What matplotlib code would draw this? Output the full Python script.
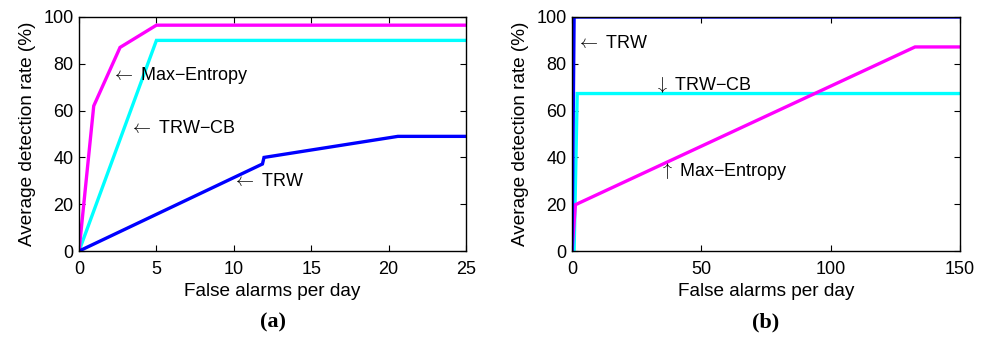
import matplotlib
matplotlib.use("Agg")
import matplotlib.pyplot as plt

plt.rcParams['font.family'] = ['Liberation Sans', 'DejaVu Sans']
plt.rcParams['mathtext.fontset'] = 'cm'

# Panel (a)
a_me_x = [0, 0.95, 2.65, 5.0, 25]
a_me_y = [0, 62, 87, 96.5, 96.5]
a_cb_x = [0, 5.0, 25]
a_cb_y = [0, 90, 90]
a_trw_x = [0, 11.85, 11.95, 20.6, 25]
a_trw_y = [0, 37.2, 40, 49, 49]

# Panel (b)
b_trw_x = [0, 0.8, 150]
b_trw_y = [0, 100, 100]
b_cb_x = [0, 0.8, 2.0, 150]
b_cb_y = [0, 0, 67.3, 67.3]
b_me_x = [0, 1.3, 132.6, 150]
b_me_y = [0, 19.8, 87.2, 87.2]

xlabel = "False alarms per day"
ylabel = "Average detection rate (%)"

fig = plt.figure(figsize=(9.89, 3.37), dpi=100)
axa = fig.add_axes([0.0799, 0.255, 0.3913, 0.6946])
axb = fig.add_axes([0.5784, 0.255, 0.3923, 0.6946])

lw = 2.4
axa.plot(a_cb_x, a_cb_y, color='#00FFFF', lw=lw, solid_joinstyle='miter')
axa.plot(a_me_x, a_me_y, color='#FF00FF', lw=lw, solid_joinstyle='miter')
axa.plot(a_trw_x, a_trw_y, color='#0000FF', lw=lw, solid_joinstyle='miter')

axb.plot(b_cb_x, b_cb_y, color='#00FFFF', lw=lw, solid_joinstyle='miter')
axb.plot(b_me_x, b_me_y, color='#FF00FF', lw=lw, solid_joinstyle='miter')
axb.plot(b_trw_x, b_trw_y, color='#0000FF', lw=lw, solid_joinstyle='miter')

fs = 13
afs = 13.7
axa.text(2.05, 75, "$\\leftarrow$ Max\u2212Entropy", fontsize=fs, va='center', ha='left')
axa.text(3.25, 52.5, "$\\leftarrow$ TRW\u2212CB", fontsize=fs, va='center', ha='left')
axa.text(9.9, 29.8, "$\\leftarrow$ TRW", fontsize=fs, va='center', ha='left')

axb.text(1.6, 88.5, "$\\leftarrow$ TRW", fontsize=fs, va='center', ha='left')
axb.text(31.5, 70.8, "$\\downarrow$ TRW\u2212CB", fontsize=fs, va='center', ha='left')
axb.text(33.6, 34.0, "$\\uparrow$ Max\u2212Entropy", fontsize=fs, va='center', ha='left')

for ax, xmax, xt, lab in [(axa, 25, [0, 5, 10, 15, 20, 25], "(a)"),
                          (axb, 150, [0, 50, 100, 150], "(b)")]:
    ax.set_xlim(0, xmax)
    ax.set_ylim(0, 100)
    ax.set_xticks(xt)
    ax.set_yticks([0, 20, 40, 60, 80, 100])
    ax.tick_params(direction='in', top=True, right=True, labelsize=fs,
                   length=4, width=0.8)
    ax.tick_params(axis='x', pad=7)
    ax.tick_params(axis='y', pad=4)
    for s in ax.spines.values():
        s.set_linewidth(1.0)
    ax.set_xlabel(xlabel, fontsize=afs, labelpad=4)
    ax.set_ylabel(ylabel, fontsize=afs, labelpad=5)
    ax.text(0.5, -0.305, lab, transform=ax.transAxes, ha='center', va='center',
            fontsize=16, fontweight='bold', family=['Liberation Serif', 'DejaVu Serif'])

fig.savefig("out.png", dpi=100)
